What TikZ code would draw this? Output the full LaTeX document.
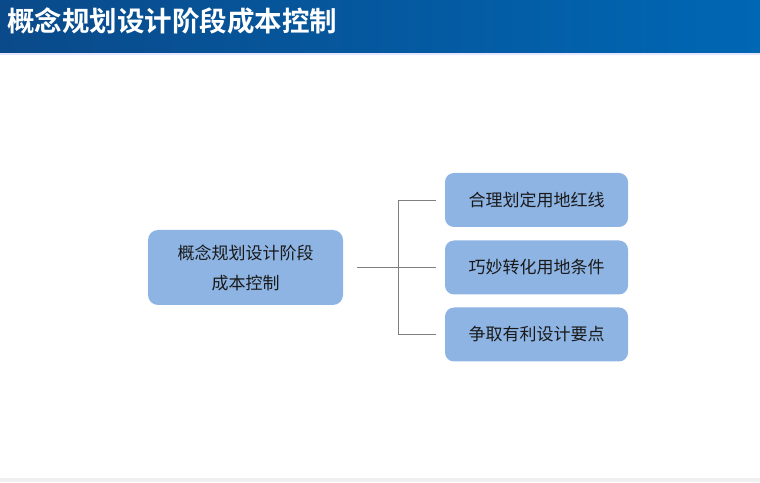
\documentclass[tikz,border=0pt]{standalone}
\usepackage{fontspec}
\newfontfamily\cjk{Noto Sans CJK SC}
\newfontfamily\cjkbold{Noto Sans CJK SC Bold}
\usepackage{tikz}
\usetikzlibrary{positioning, calc}

\definecolor{barleft}{HTML}{0A4A8A}
\definecolor{barright}{HTML}{0067B4}
\definecolor{boxblue}{HTML}{8EB4E3}
\definecolor{linkgray}{HTML}{7F7F7F}

\begin{document}
\begin{tikzpicture}[x=1pt, y=1pt,
                stage box/.style={draw=none, fill=boxblue, rounded corners=10pt,
                    minimum width=195pt, minimum height=75pt, align=center,
                    font=\cjk\fontsize{17}{30}\selectfont, text=black!90},
                item box/.style={draw=none, fill=boxblue, rounded corners=9pt,
                    minimum width=183pt, minimum height=54pt,
                    font=\cjk\fontsize{17}{20}\selectfont, text=black!90},
                link/.style={draw=linkgray, line width=0.9pt}]
                \useasboundingbox (0,0) rectangle (760,482);

                % Title bar
                \shade[left color=barleft, right color=barright] (0,429) rectangle (760,482);
                \fill[blue!10] (0,427) rectangle (760,429);
                \node[anchor=west, text=white, font=\cjkbold\fontsize{27.5}{30}\selectfont, inner sep=0pt]
                    (title) at (7,461) {概念规划设计阶段成本控制};

                % Footer strip
                \fill[gray!12] (0,0) rectangle (760,4);

                % Root and the three items
                \node[stage box] (stage) at (245.5,214.5) {概念规划设计阶段\\成本控制};
                \node[item box] (redline) at (536.5,282) {合理划定用地红线};
                \node[item box] (terms) at (536.5,214.5) {巧妙转化用地条件};
                \node[item box] (design) at (536.5,147.5) {争取有利设计要点};

                % Bracket connector
                \coordinate (start) at ($(stage.east)+(14,0)$);
                \coordinate (spine) at (398,0);
                \draw[link] (start) -- ($(terms.west)+(-9,0)$);
                \draw[link] ($(redline.west)+(-9,0)$) -- (redline.west -| spine)
                    -- (design.west -| spine) -- ($(design.west)+(-9,0)$);
\end{tikzpicture}
\end{document}
